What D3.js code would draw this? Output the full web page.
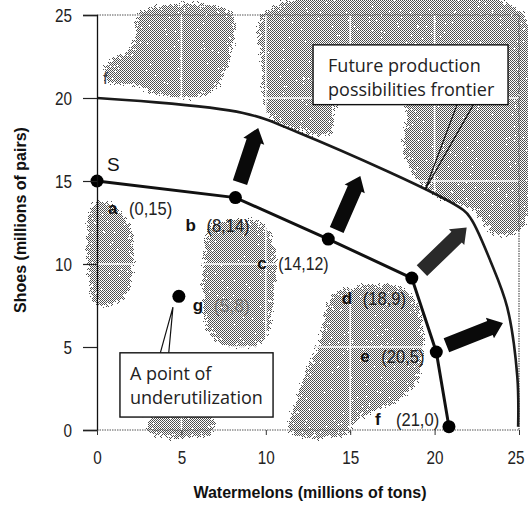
<!DOCTYPE html>
<html>
<head>
<meta charset="utf-8">
<script src="https://cdn.jsdelivr.net/npm/d3@7"></script>
<style>
  body { margin: 0; background: #fff; }
  .narrow { font-family: "Liberation Sans", Arial, sans-serif; }
  .bold { font-family: "Liberation Sans", Arial, sans-serif; font-weight: bold; }
  .note { font-family: "Open Sans", "DejaVu Sans", sans-serif; }
</style>
</head>
<body>
<svg width="528" height="505"></svg>
<script>
// tick values (both axes run 0..25)
const tickValues = [0, 5, 10, 15, 20, 25];

// current production possibilities frontier S (points a..f)
const currentNames = ["a", "b", "c", "d", "e", "f"];
const currentX = [0, 8.2, 13.7, 18.65, 20.1, 20.85];
const currentY = [15, 14, 11.5, 9.15, 4.7, 0.2];
const currentText = ["(0,15)", "(8,14)", "(14,12)", "(18,9)", "(20,5)", "(21,0)"];

// point of underutilization
const pointG = { name: "g", x: 4.85, y: 8.05, text: "(5,8)" };

// future frontier
const futureX = [0, 8.65, 11.85, 21.7, 22.2, 23.3, 24.3, 24.9, 24.95];
const futureY = [20, 19.1, 17.95, 13.25, 12.65, 10.2, 7.4, 3.2, 0.2];

// growth arrows: from / to in data units
const arrowFrom = [[8.47, 14.9], [14.2, 12.05], [19.25, 9.6], [20.7, 5.1]];
const arrowTo = [[9.55, 18.2], [15.6, 15.3], [21.9, 12.2], [24.05, 6.45]];

// photo halftone patches behind the chart (data units)
const patches = [
  [[2.4, 25.3], [8.1, 25.3], [8.0, 22.3], [7.0, 20.3], [5.4, 19.8], [3.6, 20.0], [2.2, 20.6], [0.4, 20.8], [0.4, 22.2], [2.0, 23.2]],
  [[9.8, 25.3], [25.3, 25.3], [25.3, 12.0], [23.4, 11.6], [22.3, 13.0], [19.6, 14.2], [18.0, 16.6], [18.0, 19.8], [14.5, 19.8], [13.9, 17.6], [11.9, 17.9], [10.0, 18.8], [9.6, 22.0]],
  [[-0.3, 13.9], [1.2, 13.6], [2.2, 12.0], [2.3, 10.2], [2.0, 8.2], [0.8, 7.3], [-0.3, 7.5]],
  [[6.5, 12.4], [9.9, 12.6], [10.7, 10.8], [10.6, 7.8], [10.0, 5.2], [7.9, 4.8], [6.4, 5.8], [6.1, 8.5], [6.2, 11.0]],
  [[13.8, 8.2], [15.6, 8.9], [18.6, 8.5], [19.5, 6.0], [19.2, 3.0], [17.9, 1.6], [15.4, 0.4], [15.1, -0.3], [11.3, -0.3], [11.8, 2.4], [13.0, 5.4]],
  [[3.0, 0.9], [7.0, 1.0], [7.0, -0.3], [3.0, -0.3]]
];

const svg = d3.select("svg"),
    width = +svg.attr("width"),
    height = +svg.attr("height");

const x = d3.scaleLinear().domain([0, 25]).range([97, 519]);
const y = d3.scaleLinear().domain([0, 25]).range([430, 15]);

// halftone dot pattern + ragged photo edges
const defs = svg.append("defs");
const pat = defs.append("pattern")
    .attr("id", "halftone")
    .attr("width", 2).attr("height", 2)
    .attr("patternUnits", "userSpaceOnUse");
pat.append("rect").attr("width", 1).attr("height", 1).attr("fill", "#4a4a4a");
pat.append("rect").attr("x", 1).attr("y", 1).attr("width", 1).attr("height", 1).attr("fill", "#5a5a5a");

const rough = defs.append("filter")
    .attr("id", "rough")
    .attr("filterUnits", "userSpaceOnUse")
    .attr("x", 0).attr("y", 0).attr("width", width).attr("height", height);
rough.append("feGaussianBlur").attr("in", "SourceAlpha").attr("stdDeviation", 5).attr("result", "blur");
rough.append("feTurbulence").attr("type", "fractalNoise").attr("baseFrequency", 0.35)
    .attr("numOctaves", 2).attr("seed", 4).attr("result", "noise");
rough.append("feComposite").attr("in", "blur").attr("in2", "noise")
    .attr("operator", "arithmetic").attr("k2", 2).attr("k3", 1).attr("k4", -0.75).attr("result", "mix");
const ct = rough.append("feComponentTransfer").attr("in", "mix").attr("result", "mask");
ct.append("feFuncA").attr("type", "discrete").attr("tableValues", "0 1");
rough.append("feComposite").attr("in", "SourceGraphic").attr("in2", "mask").attr("operator", "in");

const plot = svg.append("g");

const photo = plot.append("g").attr("filter", "url(#rough)");
photo.selectAll("path.patch")
    .data(patches)
    .enter().append("path")
    .attr("class", "patch")
    .attr("d", d => d3.line().x(p => x(p[0])).y(p => y(p[1])).curve(d3.curveCatmullRomClosed)(d))
    .attr("fill", "url(#halftone)")
    .attr("shape-rendering", "crispEdges");

// white grid lines show only through the photo
plot.selectAll("line.gx")
    .data(tickValues.slice(1, 5))
    .enter().append("line")
    .attr("x1", d => x(d)).attr("x2", d => x(d))
    .attr("y1", y(25)).attr("y2", y(0))
    .attr("stroke", "#fff").attr("stroke-width", 1.5);
plot.selectAll("line.gy")
    .data(tickValues.slice(1, 5))
    .enter().append("line")
    .attr("y1", d => y(d)).attr("y2", d => y(d))
    .attr("x1", x(0)).attr("x2", x(25))
    .attr("stroke", "#fff").attr("stroke-width", 1.5);

// dotted frame top / right / bottom
plot.append("path")
    .attr("d", `M${x(0)},${y(25)}H${x(25)}V${y(0)}H${x(0)}`)
    .attr("fill", "none")
    .attr("stroke", "#555")
    .attr("stroke-width", 1.2)
    .attr("stroke-dasharray", "1.5,1");

// y axis
const yAxis = svg.append("g")
    .attr("class", "narrow")
    .attr("transform", `translate(${x(0)},0)`)
    .call(d3.axisLeft(y).tickValues(tickValues).tickSize(14).tickPadding(11));
yAxis.attr("font-family", null);
yAxis.select(".domain").attr("stroke", "#111").attr("stroke-width", 1.3);
yAxis.selectAll(".tick line").attr("stroke", "#222").attr("stroke-width", 1.2);
yAxis.selectAll(".tick text")
    .attr("font-size", 19).attr("fill", "#222")
    .attr("textLength", d => String(d).length * 8.5)
    .attr("lengthAdjust", "spacingAndGlyphs");

// x axis
const xAxis = svg.append("g")
    .attr("class", "narrow")
    .attr("transform", `translate(0,${y(0)})`)
    .call(d3.axisBottom(x).tickValues(tickValues).tickSize(5).tickPadding(16));
xAxis.attr("font-family", null);
xAxis.select(".domain").remove();
xAxis.selectAll(".tick line").attr("stroke", "#333").attr("stroke-width", 1);
xAxis.selectAll(".tick text")
    .attr("font-size", 19).attr("fill", "#222")
    .attr("textLength", d => String(d).length * 8.5)
    .attr("lengthAdjust", "spacingAndGlyphs")
    .filter(d => d === 25)
    .attr("text-anchor", "end")
    .attr("x", 524 - x(25));

// axis titles
svg.append("text")
    .attr("class", "bold")
    .attr("x", 310).attr("y", 498)
    .attr("text-anchor", "middle")
    .attr("font-size", 16)
    .attr("fill", "#111")
    .text("Watermelons (millions of tons)");
svg.append("text")
    .attr("class", "bold")
    .attr("transform", "translate(26,220) rotate(-90)")
    .attr("text-anchor", "middle")
    .attr("font-size", 16)
    .attr("fill", "#111")
    .text("Shoes (millions of pairs)");

// future frontier
plot.append("path")
    .datum(futureX.map((v, i) => [v, futureY[i]]))
    .attr("d", d3.line().x(d => x(d[0])).y(d => y(d[1])).curve(d3.curveCatmullRom.alpha(0.5)))
    .attr("fill", "none")
    .attr("stroke", "#1a1a1a")
    .attr("stroke-width", 2.6);

// current frontier
const current = currentX.map((v, i) => ({ x: v, y: currentY[i], name: currentNames[i], text: currentText[i] }));
plot.append("path")
    .datum(current)
    .attr("d", d3.line().x(d => x(d.x)).y(d => y(d.y)))
    .attr("fill", "none")
    .attr("stroke", "#111")
    .attr("stroke-width", 3);

// arrows
function arrowPath(a, b) {
    const x0 = x(a[0]), y0 = y(a[1]), x1 = x(b[0]), y1 = y(b[1]);
    const len = Math.hypot(x1 - x0, y1 - y0);
    const ux = (x1 - x0) / len, uy = (y1 - y0) / len;
    const nx = -uy, ny = ux;
    const sw = 7.5, hw = 11, hl = 14;
    const hx = x1 - ux * hl, hy = y1 - uy * hl;
    const pts = [
        [x0 + nx * sw, y0 + ny * sw],
        [hx + nx * sw, hy + ny * sw],
        [hx + nx * hw, hy + ny * hw],
        [x1, y1],
        [hx - nx * hw, hy - ny * hw],
        [hx - nx * sw, hy - ny * sw],
        [x0 - nx * sw, y0 - ny * sw]
    ];
    return "M" + pts.map(p => p.join(",")).join("L") + "Z";
}
plot.selectAll("path.arrow")
    .data(arrowFrom)
    .enter().append("path")
    .attr("class", "arrow")
    .attr("d", (d, i) => arrowPath(d, arrowTo[i]))
    .attr("fill", (d, i) => i === 2 ? "#2a2a2a" : "#0a0a0a");

// points
plot.selectAll("circle.pt")
    .data(current.concat([pointG]))
    .enter().append("circle")
    .attr("class", "pt")
    .attr("cx", d => x(d.x))
    .attr("cy", d => y(d.y))
    .attr("r", 6.5)
    .attr("fill", "#000");

// point labels (offsets in px from the point)
const labelOffsets = { a: [11, 33], b: [-50, 33], c: [-71, 30], d: [-70, 26], e: [-76, 10], f: [-74, -2], g: [14, 15] };
plot.selectAll("text.lbl")
    .data(current.concat([pointG]))
    .enter().append("text")
    .attr("class", "lbl bold")
    .attr("x", d => x(d.x) + labelOffsets[d.name][0])
    .attr("y", d => y(d.y) + labelOffsets[d.name][1])
    .attr("font-size", 17)
    .attr("fill", "#111")
    .text(d => d.name);
plot.selectAll("text.coord")
    .data(current.concat([pointG]))
    .enter().append("text")
    .attr("class", "coord narrow")
    .attr("x", d => x(d.x) + labelOffsets[d.name][0] + 21)
    .attr("y", d => y(d.y) + labelOffsets[d.name][1] + 1)
    .attr("font-size", 19)
    .attr("textLength", d => d.text.length * 7.2)
    .attr("lengthAdjust", "spacingAndGlyphs")
    .attr("fill", d => d.name === "g" ? "#777" : "#222")
    .text(d => d.text);

// frontier names
plot.append("text")
    .attr("x", x(0) + 10).attr("y", y(15) - 10)
    .attr("font-family", "'Liberation Sans', Arial, sans-serif")
    .attr("font-size", 19)
    .attr("fill", "#111")
    .text("S");
plot.append("text")
    .attr("x", x(0) + 6).attr("y", y(20) - 14)
    .attr("font-family", "'Liberation Sans', Arial, sans-serif")
    .attr("font-size", 17)
    .attr("fill", "#444")
    .text("f");

// callouts
function callout(box, tip, baseA, baseB, lines, tx, ty) {
    const g = svg.append("g");
    g.append("path")
        .attr("d", `M${x(baseA)},${y(box[3])}L${x(tip[0])},${y(tip[1])}L${x(baseB)},${y(box[3])}`)
        .attr("fill", "none")
        .attr("stroke", "#111")
        .attr("stroke-width", 1.2);
    g.append("rect")
        .attr("x", x(box[0])).attr("y", y(box[1]))
        .attr("width", x(box[2]) - x(box[0]))
        .attr("height", y(box[3]) - y(box[1]))
        .attr("fill", "#fff")
        .attr("stroke", "#111")
        .attr("stroke-width", 1.4);
    g.selectAll("text")
        .data(lines)
        .enter().append("text")
        .attr("class", "note")
        .attr("x", x(box[0]) + tx)
        .attr("y", (d, i) => y(box[1]) + ty + i * 24)
        .attr("font-size", 18)
        .attr("fill", "#222")
        .text(d => d);
}
callout([12.8, 23.2, 24.35, 19.6], [19.43, 14.46], 21.33, 22.3,
    ["Future production", "possibilities frontier"], 15, 27);
callout([1.36, 4.65, 10.43, 0.78], [4.5, 7.4], 2.7, 3.9,
    ["A point of", "underutilization"], 10, 27);
</script>
</body>
</html>
